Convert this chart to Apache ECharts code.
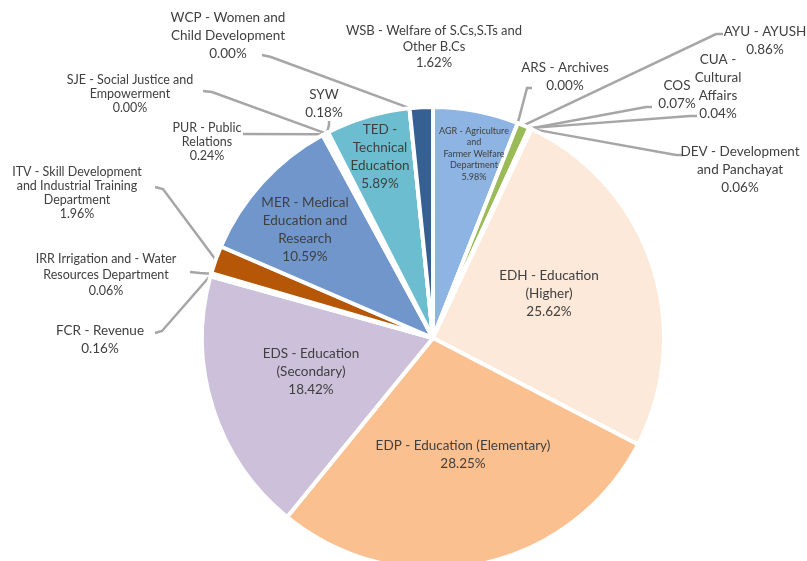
<!DOCTYPE html>
<html><head><meta charset="utf-8">
<script src="https://cdn.jsdelivr.net/npm/echarts@6/dist/echarts.min.js"></script>
<style>html,body{margin:0;padding:0;background:#fff}#c{width:807px;height:561px}</style>
</head><body><div id="c"></div>
<script>
// ---- data ----
const codes = ['AGR','ARS','AYU','CUA','COS','DEV','EDH','EDP','EDS','FCR','IRR','ITV','MER','PUR','SJE','SYW','TED','WCP','WSB'];
const labelNames = [
  'AGR - Agriculture\nand\nFarmer Welfare\nDepartment',
  'ARS - Archives',
  'AYU - AYUSH',
  'CUA -\nCultural\nAffairs',
  'COS',
  'DEV - Development\nand Panchayat',
  'EDH - Education\n(Higher)',
  'EDP - Education (Elementary)',
  'EDS - Education\n(Secondary)',
  'FCR - Revenue',
  'IRR Irrigation and - Water\nResources Department',
  'ITV - Skill Development\nand Industrial Training\nDepartment',
  'MER - Medical\nEducation and\nResearch',
  'PUR - Public\nRelations',
  'SJE - Social Justice and\nEmpowerment',
  'SYW',
  'TED -\nTechnical\nEducation',
  'WCP - Women and\nChild Development',
  'WSB - Welfare of S.Cs,S.Ts and\nOther B.Cs'
];
const shares = [5.98,0.00,0.86,0.04,0.07,0.06,25.62,28.25,18.42,0.16,0.06,1.96,10.59,0.24,0.00,0.18,5.89,0.00,1.62];

// ---- styling / layout ----
const colors = {
  AGR:'#8DB4E2', ARS:'#C0504D', AYU:'#9BBB59', CUA:'#8064A2', COS:'#4BACC6', DEV:'#F79646',
  EDH:'#FDE9D9', EDP:'#FAC090', EDS:'#CCC0DA', FCR:'#D99694', IRR:'#E6B9B8', ITV:'#B65708',
  MER:'#7096CB', PUR:'#95B3D7', SJE:'#C3D69B', SYW:'#B7DEE8', TED:'#6DBDD0', WCP:'#B2A1C7', WSB:'#376092'
};
const noLine = {AGR:1, EDH:1, EDP:1, EDS:1, MER:1, TED:1, WSB:1};
const inside = {AGR:1, EDH:1, EDP:1, EDS:1, MER:1, TED:1};
const labelPos = {
  AGR:[474,154], ARS:[565,77], AYU:[765,41], CUA:[718,87], COS:[677,95], DEV:[740,170],
  EDH:[549,294], EDP:[463,455], EDS:[311,372], FCR:[100,340], IRR:[106,275], ITV:[77,193],
  MER:[305,230], PUR:[207,142], SJE:[130,94], SYW:[324,104], TED:[380,157], WCP:[228,36], WSB:[434,47]
};
// label-side ends of the leader lines (the slice end comes from the pie layout)
const leaderEnds = {
  WCP:[[262,55],[271,57]], SJE:[[203,91],[212,92]], PUR:[[243,134]], SYW:[[329,121],[329,125]],
  ARS:[[532,88],[527,88]], AYU:[[723,34],[716,34]], COS:[[652,107],[646,107]], CUA:[[697,116],[690,116]],
  DEV:[[683,155],[676,155]], ITV:[[155,187],[163,189]], IRR:[[190,272],[200,273]], FCR:[[155,333],[162,331]]
};
const labelFont = {
  AGR:[9,11.5], ITV:[12.5,14], SJE:[12.5,14], PUR:[12.5,14], IRR:[12.5,16], WSB:[13,16]
};

const data = codes.map((c, i) => {
  const f = labelFont[c] || [13.5, 18];
  return {
    name: c,
    value: shares[i],
    itemStyle: { color: colors[c] },
    label: {
      show: true,
      position: inside[c] ? 'inside' : 'outside',
      formatter: labelNames[i] + '\n' + shares[i].toFixed(2) + '%',
      fontSize: f[0], lineHeight: f[1], align: 'center'
    },
    labelLine: { show: !noLine[c] }
  };
});

const chart = echarts.init(document.getElementById('c'), null, {renderer:'canvas'});
chart.setOption({
  animation: false,
  backgroundColor: '#fff',
  textStyle: { fontFamily: 'Lato' },
  series: [{
    type: 'pie',
    center: [433, 338],
    radius: 231,
    startAngle: 90,
    clockwise: true,
    avoidLabelOverlap: false,
    data: data,
    itemStyle: { borderColor: '#fff', borderWidth: 4 },
    label: { color: '#404040', fontFamily: 'Lato' },
    labelLine: { lineStyle: { color: '#A6A6A6', width: 2.5 }, length: 10, length2: 10 },
    labelLayout: function (p) {
      const c = codes[p.dataIndex];
      const pos = labelPos[c];
      const out = { x: pos[0], y: pos[1], align: 'center', verticalAlign: 'middle' };
      if (leaderEnds[c] && p.labelLinePoints && p.labelLinePoints[0]) {
        const a = p.labelLinePoints[0];
        out.labelLinePoints = leaderEnds[c].concat([[a[0], a[1]]]);
      }
      return out;
    }
  }]
});
</script></body></html>
